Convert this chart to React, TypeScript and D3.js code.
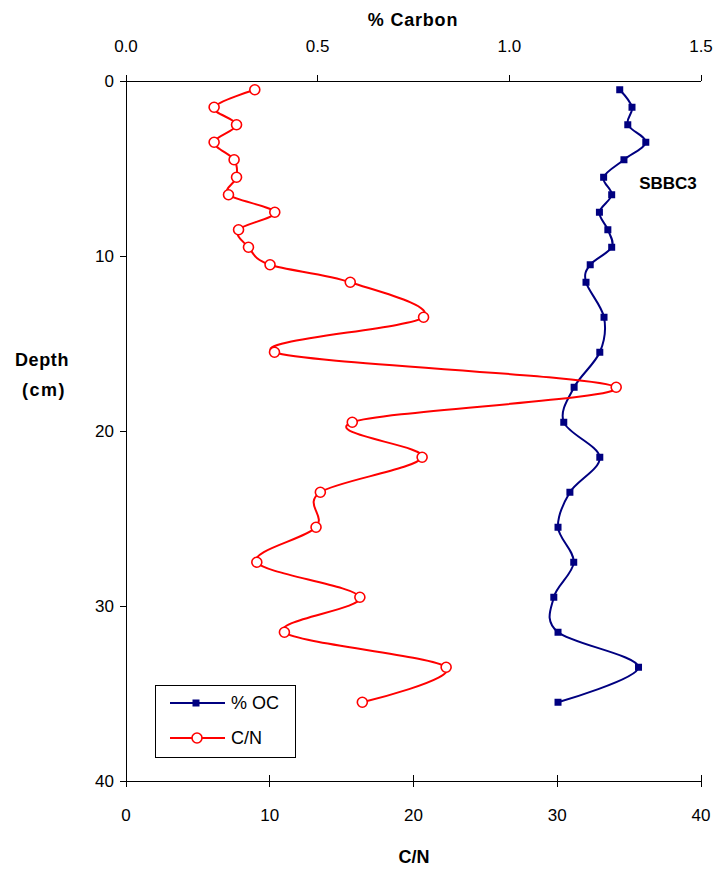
import React from "react";
import * as d3 from "d3";

const depthCN = [0.5, 1.5, 2.5, 3.5, 4.5, 5.5, 6.5, 7.5, 8.5, 9.5, 10.5, 11.5, 13.5, 15.5, 17.5, 19.5, 21.5, 23.5, 25.5, 27.5, 29.5, 31.5, 33.5, 35.5];
const cnValues = [8.96, 6.13, 7.69, 6.13, 7.52, 7.69, 7.13, 10.35, 7.83, 8.52, 10.02, 15.6, 20.7, 10.33, 34.1, 15.74, 20.6, 13.52, 13.22, 9.1, 16.27, 11.02, 22.27, 16.44];
const depthOC = [0.5, 1.5, 2.5, 3.5, 4.5, 5.5, 6.5, 7.5, 8.5, 9.5, 10.5, 11.5, 13.5, 15.5, 17.5, 19.5, 21.5, 23.5, 25.5, 27.5, 29.5, 31.5, 33.5, 35.5];
const ocValues = [1.288, 1.32, 1.309, 1.356, 1.299, 1.246, 1.267, 1.235, 1.257, 1.267, 1.211, 1.2, 1.247, 1.236, 1.169, 1.142, 1.236, 1.158, 1.127, 1.168, 1.116, 1.127, 1.337, 1.127];

const carbonTicks = [0, 0.5, 1.0, 1.5];
const cnTicks = [0, 10, 20, 30, 40];
const depthTicks = [0, 10, 20, 30, 40];

const BLUE = "#000080";
const RED = "#FF0000";
const FONT = "'Liberation Sans', Arial, sans-serif";

export default function App() {
  const W = 720, H = 869;
  const left = 126, right = 701, top = 81, bottom = 781;
  const xCN = d3.scaleLinear().domain([0, 40]).range([left, right]);
  const xC = d3.scaleLinear().domain([0, 1.5]).range([left, right]);
  const y = d3.scaleLinear().domain([0, 40]).range([top, bottom]);

  const line = d3.line<[number, number]>().x(d => d[0]).y(d => d[1]).curve(d3.curveCardinal.tension(0));
  const ocPts: [number, number][] = ocValues.map((v, i) => [xC(v), y(depthOC[i])]);
  const cnPts: [number, number][] = cnValues.map((v, i) => [xCN(v), y(depthCN[i])]);

  return (
    <svg width={W} height={H} style={{ position: "absolute", left: 0, top: 0, background: "#fff" }} fontFamily={FONT}>
      <rect x={0} y={0} width={W} height={H} fill="#fff" />
      <g stroke="#000" strokeWidth={1} shapeRendering="crispEdges">
        <line x1={left} x2={right} y1={top} y2={top} />
        <line x1={left} x2={right} y1={bottom} y2={bottom} />
        <line x1={left} x2={left} y1={top} y2={bottom} />
        {carbonTicks.map(t => (
          <line key={"ct" + t} x1={xC(t)} x2={xC(t)} y1={top} y2={top - 6} />
        ))}
        {cnTicks.map(t => (
          <line key={"nt" + t} x1={xCN(t)} x2={xCN(t)} y1={bottom - 6} y2={bottom + 6} />
        ))}
        {depthTicks.map(t => (
          <line key={"dt" + t} x1={left - 6} x2={left} y1={y(t)} y2={y(t)} />
        ))}
      </g>
      <g fontSize={17} fill="#000">
        {carbonTicks.map(t => (
          <text key={"cl" + t} x={xC(t)} y={52} textAnchor="middle">{t.toFixed(1)}</text>
        ))}
        {cnTicks.map(t => (
          <text key={"nl" + t} x={xCN(t)} y={821} textAnchor="middle">{t}</text>
        ))}
        {depthTicks.map(t => (
          <text key={"dl" + t} x={114} y={y(t) + 6} textAnchor="end">{t}</text>
        ))}
      </g>
      <g fontWeight="bold" fill="#000">
        <text x={413} y={26} textAnchor="middle" fontSize={18} letterSpacing={0.8}>% Carbon</text>
        <text x={414} y={863} textAnchor="middle" fontSize={18}>C/N</text>
        <text x={42} y={366} textAnchor="middle" fontSize={18} letterSpacing={0.6}>Depth</text>
        <text x={44} y={396} textAnchor="middle" fontSize={18} letterSpacing={1.5}>(cm)</text>
        <text x={668} y={189} textAnchor="middle" fontSize={17}>SBBC3</text>
      </g>
      <path d={line(ocPts) || ""} fill="none" stroke={BLUE} strokeWidth={2} />
      {ocPts.map((p, i) => (
        <rect key={"oc" + i} x={p[0] - 3.5} y={p[1] - 3.5} width={7} height={7} fill={BLUE} />
      ))}
      <path d={line(cnPts) || ""} fill="none" stroke={RED} strokeWidth={2} />
      {cnPts.map((p, i) => (
        <circle key={"cn" + i} cx={p[0]} cy={p[1]} r={5} fill="#fff" stroke={RED} strokeWidth={1.6} />
      ))}
      <rect x={155} y={685} width={140} height={72} fill="#fff" stroke="#000" strokeWidth={1} shapeRendering="crispEdges" />
      <line x1={170} x2={225} y1={703} y2={703} stroke={BLUE} strokeWidth={2} />
      <rect x={196 - 3.5} y={703 - 3.5} width={7} height={7} fill={BLUE} />
      <text x={231} y={709} fontSize={18} fill="#000">% OC</text>
      <line x1={170} x2={225} y1={738} y2={738} stroke={RED} strokeWidth={2} />
      <circle cx={197} cy={738} r={5} fill="#fff" stroke={RED} strokeWidth={1.6} />
      <text x={231} y={744} fontSize={18} fill="#000">C/N</text>
    </svg>
  );
}
